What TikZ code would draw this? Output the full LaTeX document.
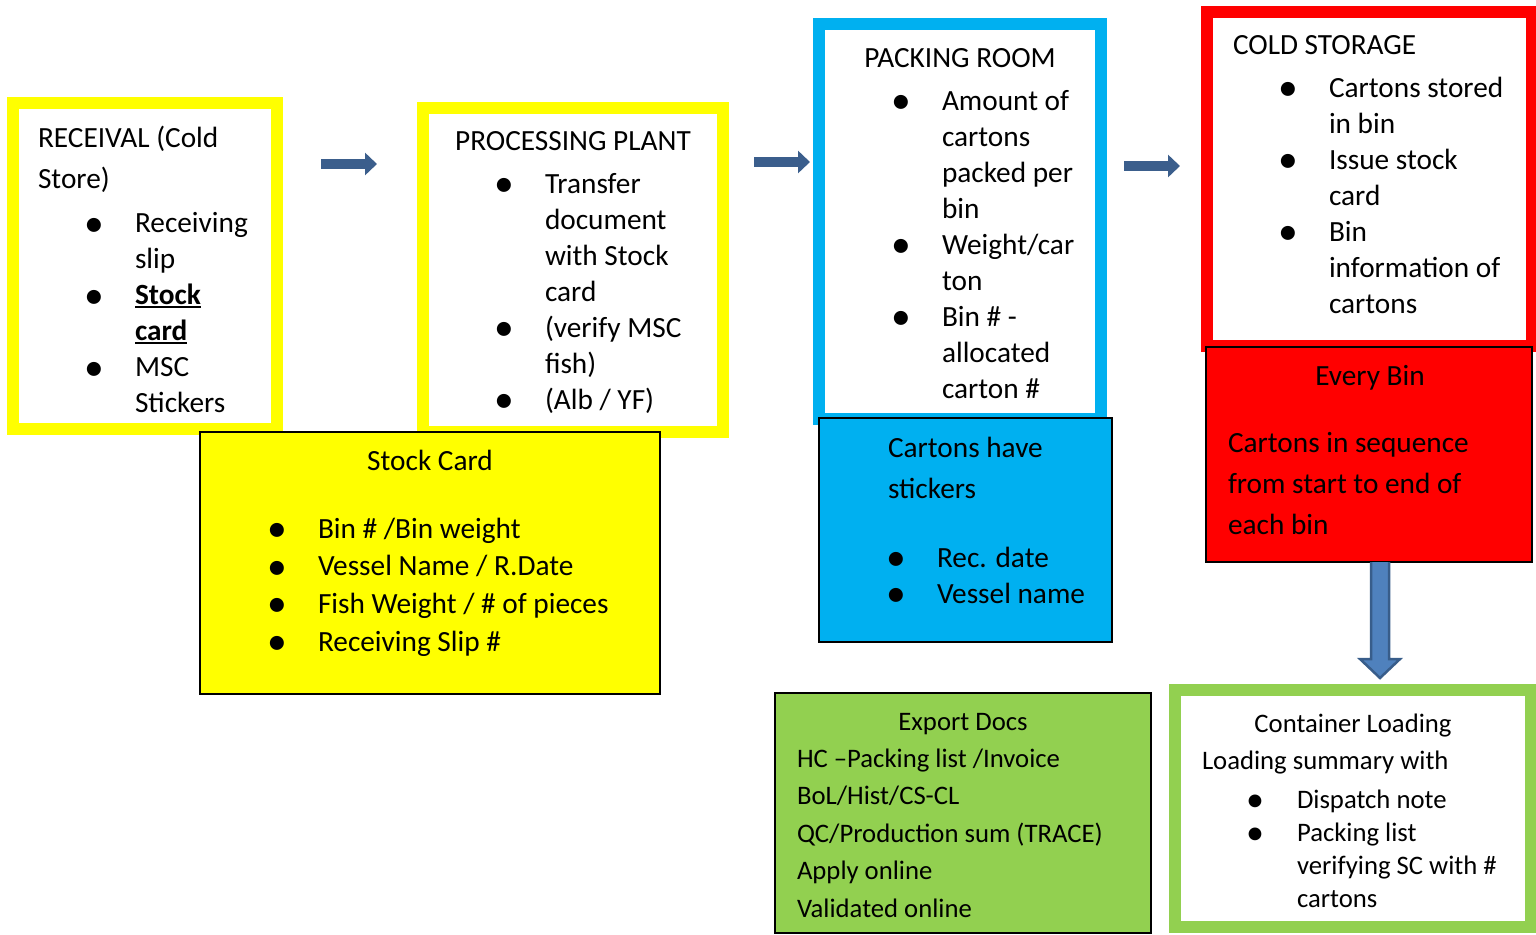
\documentclass[tikz,border=0pt]{standalone}
\usepackage{fontspec}
\setmainfont{Carlito}
\usepackage{xcolor}
\usepackage{graphicx}
\usetikzlibrary{arrows.meta, positioning, calc}
\definecolor{recvyellow}{RGB}{255, 255, 0}
\definecolor{packblue}{RGB}{0, 176, 240}
\definecolor{coldred}{RGB}{255, 0, 0}
\definecolor{loadgreen}{RGB}{146, 208, 80}
\definecolor{flowblue}{RGB}{59, 94, 140}
\definecolor{downblue}{RGB}{79, 129, 189}
\definecolor{downedge}{RGB}{56, 93, 138}

\newcommand{\fbig}{\fontsize{29.3}{36}\selectfont}
\newcommand{\fmid}{\fontsize{26.7}{37.5}\selectfont}
\newcommand{\bi}{\makebox[42pt][l]{\hspace*{-9pt}\raisebox{-3.5pt}{\scalebox{1.35}{\textbullet}}}}
\newcommand{\bc}{\hspace*{42pt}}
\newcommand{\uln}[1]{\setbox0\hbox{#1}\rlap{\rule[-3.5pt]{\wd0}{1.8pt}}\box0}

\begin{document}
\begin{tikzpicture}[
  x=1pt, y=-1pt,
  every node/.style={inner sep=0pt, outer sep=0pt},
  frame/.style={draw=#1, line width=12pt, fill=white},
  card/.style={draw=black, line width=1.5pt, fill=#1},
  txt/.style={font=\fbig, align=left, anchor=base west},
  head/.style={font=\fbig, anchor=base},
  flow/.style={line width=10pt, color=flowblue, -{Triangle[length=12pt, width=22pt]}}
]
  \useasboundingbox (0,0) rectangle (1536,934);

  % Stufen (obere Reihe)
  \node[frame=recvyellow, minimum width=264pt, minimum height=326pt] (recv) at (145,266) {};
  \node[frame=recvyellow, minimum width=300pt, minimum height=324pt] (proc) at (573,270) {};
  \node[frame=packblue, minimum width=282pt, minimum height=395pt] (pack) at (960,221.5) {};
  \node[frame=coldred, minimum width=325pt, minimum height=334pt] (cold) at (1369.5,179) {};

  % Karten darunter
  \node[card=recvyellow, minimum width=460pt, minimum height=262pt] (stock) at (430,563) {};
  \node[card=packblue, minimum width=293pt, minimum height=224pt] (stick) at (965.5,530) {};
  \node[card=coldred, minimum width=326pt, minimum height=215pt] (bin) at (1369,454.5) {};
  \node[card=loadgreen, minimum width=376pt, minimum height=240pt] (export) at (963,813) {};
  \node[frame=loadgreen, minimum width=356pt, minimum height=237pt] (load) at (1353,808.5) {};

  % Texte (Grundlinie der letzten Zeile)
  \node[txt] (recvtitle) at (38,188) {RECEIVAL (Cold\\[5pt] Store)};
  \node[txt] (recvbody) at (93,412.7) {\bi Receiving\\ \bc slip\\ \bi \uln{\textbf{Stock}}\\ \bc \uln{\textbf{card}}\\ \bi MSC\\ \bc Stickers};

  \node[head] (proctitle) at (573,150) {PROCESSING PLANT};
  \node[txt] (procbody) at (503,409) {\bi Transfer\\ \bc document\\ \bc with Stock\\ \bc card\\ \bi (verify MSC\\ \bc fish)\\ \bi (Alb / YF)};

  \node[head] (packtitle) at (960,67) {PACKING ROOM};
  \node[txt] (packbody) at (900,398) {\bi Amount of\\ \bc cartons\\ \bc packed per\\ \bc bin\\ \bi Weight/car\\ \bc ton\\ \bi Bin \# -\\ \bc allocated\\ \bc carton \#};

  \node[txt] (coldtitle) at (1233,55) {COLD STORAGE};
  \node[txt] (coldbody) at (1287,313) {\bi Cartons stored\\ \bc in bin\\ \bi Issue stock\\ \bc card\\ \bi Bin\\ \bc information of\\ \bc cartons};

  \node[head] (stocktitle) at (430,470) {Stock Card};
  \node[txt, font=\fontsize{29.3}{37.7}\selectfont] (stockbody) at (276,651.1) {\bi Bin \# /Bin weight\\ \bi Vessel Name / R.Date\\ \bi Fish Weight / \# of pieces\\ \bi Receiving Slip \#};

  \node[txt, font=\fontsize{29.3}{41}\selectfont] (sticktitle) at (888,498) {Cartons have\\ stickers};
  \node[txt] (stickbody) at (895,603) {\bi Rec. date\\ \bi Vessel name};

  \node[head] (bintitle) at (1370,385) {Every Bin};
  \node[txt, font=\fontsize{29.3}{41}\selectfont] (binbody) at (1228,534) {Cartons in sequence\\ from start to end of\\ each bin};

  \node[head, font=\fmid] (exporttitle) at (963,730) {Export Docs};
  \node[txt, font=\fmid] (exportbody) at (797,917) {HC –Packing list /Invoice\\ BoL/Hist/CS-CL\\ QC/Production sum (TRACE)\\ Apply online\\ Validated online};

  \node[head, font=\fmid] (loadtitle) at (1353,732) {Container Loading};
  \node[txt, font=\fmid] (loadsum) at (1202,769) {Loading summary with};
  \node[txt, font=\fontsize{26.7}{33}\selectfont] (loadbody) at (1255,907) {\bi Dispatch note\\ \bi Packing list\\ \bc verifying SC with \#\\ \bc cartons};

  % Pfeile zwischen den Stufen
  \coordinate (a1) at (321,164);
  \coordinate (a2) at (754,162);
  \coordinate (a3) at (1124,166);
  \draw[flow] (a1) -- ++(56,0);
  \draw[flow] (a2) -- ++(56,0);
  \draw[flow] (a3) -- ++(56,0);

  % Pfeil nach unten zum Container
  \coordinate (d0) at (1380,562);
  \draw[fill=downblue, draw=downedge, line width=2.5pt, line join=miter]
    ($(d0)+(-9,0)$) -- ++(0,97) -- ++(-11,0) -- ($(d0)+(0,116)$) -- ++(20,-19)
    -- ++(-11,0) -- ++(0,-97);
\end{tikzpicture}
\end{document}
